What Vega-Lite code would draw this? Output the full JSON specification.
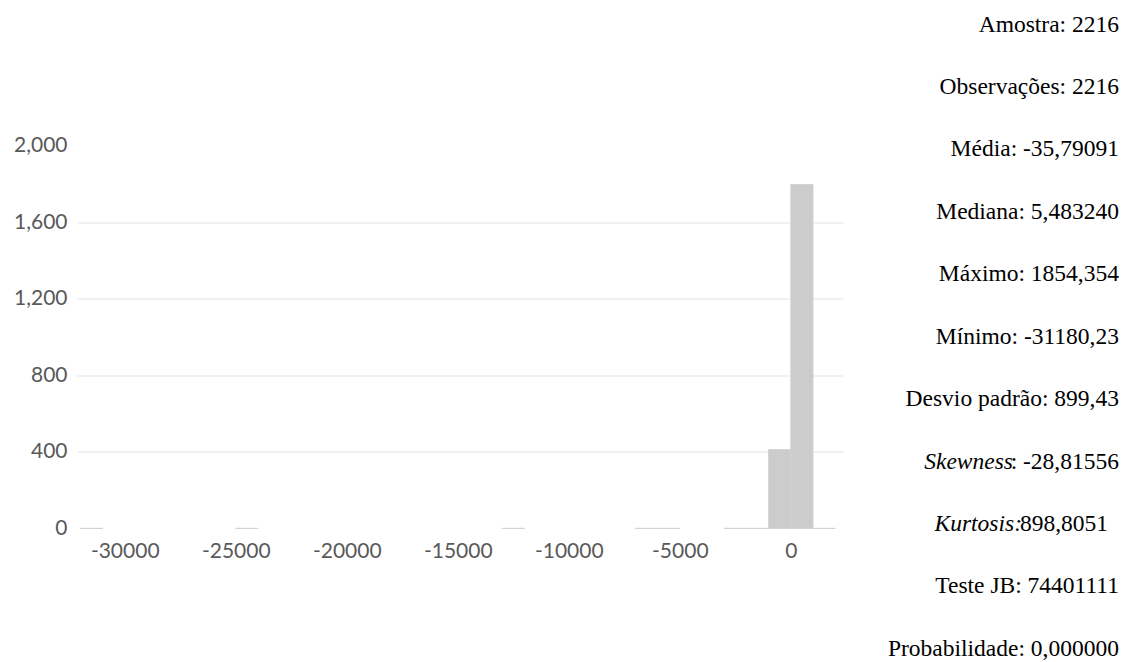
{
  "$schema": "https://vega.github.io/schema/vega-lite/v6.json",
  "background": "white",
  "padding": {"left": 13, "top": 12, "right": 0, "bottom": 0},
  "bounds": "flush",
  "center": true,
  "spacing": 0,
  "config": {
    "view": {"stroke": null},
    "axis": {"labelFont": "Lato", "labelFontSize": 21, "labelColor": "#595959"}
  },
  "hconcat": [
    {
      "width": 766,
      "height": 383,
      "data": {
        "values": [
          {"inicio": -32000, "fim": -31000, "frequencia": 1},
          {"inicio": -25000, "fim": -24000, "frequencia": 1},
          {"inicio": -13000, "fim": -12000, "frequencia": 1},
          {"inicio": -7000, "fim": -6000, "frequencia": 1},
          {"inicio": -6000, "fim": -5000, "frequencia": 1},
          {"inicio": -3000, "fim": -2000, "frequencia": 1},
          {"inicio": -2000, "fim": -1000, "frequencia": 1},
          {"inicio": -1000, "fim": 0, "frequencia": 412},
          {"inicio": 0, "fim": 1000, "frequencia": 1796},
          {"inicio": 1000, "fim": 2000, "frequencia": 1}
        ]
      },
      "mark": {"type": "rect", "fill": "#cccccc", "stroke": "#d2d2d2", "strokeWidth": 1},
      "encoding": {
        "x": {
          "field": "inicio",
          "type": "quantitative",
          "scale": {"domain": [-32150, 2350], "nice": false, "zero": false},
          "axis": {
            "values": [-30000, -25000, -20000, -15000, -10000, -5000, 0],
            "labelExpr": "datum.value + ''",
            "title": null,
            "domain": false,
            "ticks": false,
            "grid": false,
            "labelFlush": false,
            "labelPadding": 12
          }
        },
        "x2": {"field": "fim"},
        "y": {
          "field": "frequencia",
          "type": "quantitative",
          "scale": {"domain": [0, 2000], "nice": false},
          "axis": {
            "values": [0, 400, 800, 1200, 1600, 2000],
            "format": ",d",
            "title": null,
            "domain": false,
            "ticks": false,
            "labelPadding": 10,
            "gridColor": "#e3e3e3",
            "gridOpacity": {"condition": {"test": "datum.value == 0 || datum.value == 2000", "value": 0}, "value": 1}
          }
        },
        "y2": {"datum": 0}
      }
    },
    {
      "width": 276,
      "height": 650,
      "data": {
        "values": [
          {"estatistica": "Amostra", "texto": "Amostra: 2216", "italico": ""},
          {"estatistica": "Observações", "texto": "Observações: 2216", "italico": ""},
          {"estatistica": "Média", "texto": "Média: -35,79091", "italico": ""},
          {"estatistica": "Mediana", "texto": "Mediana: 5,483240", "italico": ""},
          {"estatistica": "Máximo", "texto": "Máximo: 1854,354", "italico": ""},
          {"estatistica": "Mínimo", "texto": "Mínimo: -31180,23", "italico": ""},
          {"estatistica": "Desvio padrão", "texto": "Desvio padrão: 899,43", "italico": ""},
          {"estatistica": "Skewness", "texto": ": -28,81556", "italico": "Skewness"},
          {"estatistica": "Kurtosis", "texto": "898,8051", "italico": "Kurtosis:"},
          {"estatistica": "Teste JB", "texto": "Teste JB: 74401111", "italico": ""},
          {"estatistica": "Probabilidade", "texto": "Probabilidade: 0,000000", "italico": ""}
        ]
      },
      "encoding": {
        "x": {"datum": 1, "type": "quantitative", "scale": {"domain": [0, 1]}, "axis": null},
        "y": {
          "field": "estatistica",
          "type": "ordinal",
          "scale": {
            "type": "point",
            "padding": 0.2083,
            "domain": ["Amostra", "Observações", "Média", "Mediana", "Máximo", "Mínimo", "Desvio padrão", "Skewness", "Kurtosis", "Teste JB", "Probabilidade"]
          },
          "axis": null
        }
      },
      "layer": [
        {
          "transform": [{"filter": "datum.estatistica != 'Kurtosis'"}],
          "mark": {"type": "text", "align": "right", "baseline": "alphabetic", "dy": 6.7, "font": "Liberation Serif", "fontSize": 23.5, "color": "#000000"},
          "encoding": {"text": {"field": "texto"}}
        },
        {
          "transform": [{"filter": "datum.estatistica == 'Kurtosis'"}],
          "mark": {"type": "text", "align": "right", "baseline": "alphabetic", "dy": 6.7, "dx": -11, "font": "Liberation Serif", "fontSize": 23.5, "color": "#000000"},
          "encoding": {"text": {"field": "texto"}}
        },
        {
          "transform": [{"filter": "datum.estatistica == 'Skewness'"}],
          "mark": {"type": "text", "align": "right", "baseline": "alphabetic", "dy": 6.7, "dx": -106, "font": "Liberation Serif", "fontSize": 23.5, "fontStyle": "italic", "color": "#000000"},
          "encoding": {"text": {"field": "italico"}}
        },
        {
          "transform": [{"filter": "datum.estatistica == 'Kurtosis'"}],
          "mark": {"type": "text", "align": "right", "baseline": "alphabetic", "dy": 6.7, "dx": -97, "font": "Liberation Serif", "fontSize": 23.5, "fontStyle": "italic", "color": "#000000"},
          "encoding": {"text": {"field": "italico"}}
        }
      ]
    }
  ]
}
